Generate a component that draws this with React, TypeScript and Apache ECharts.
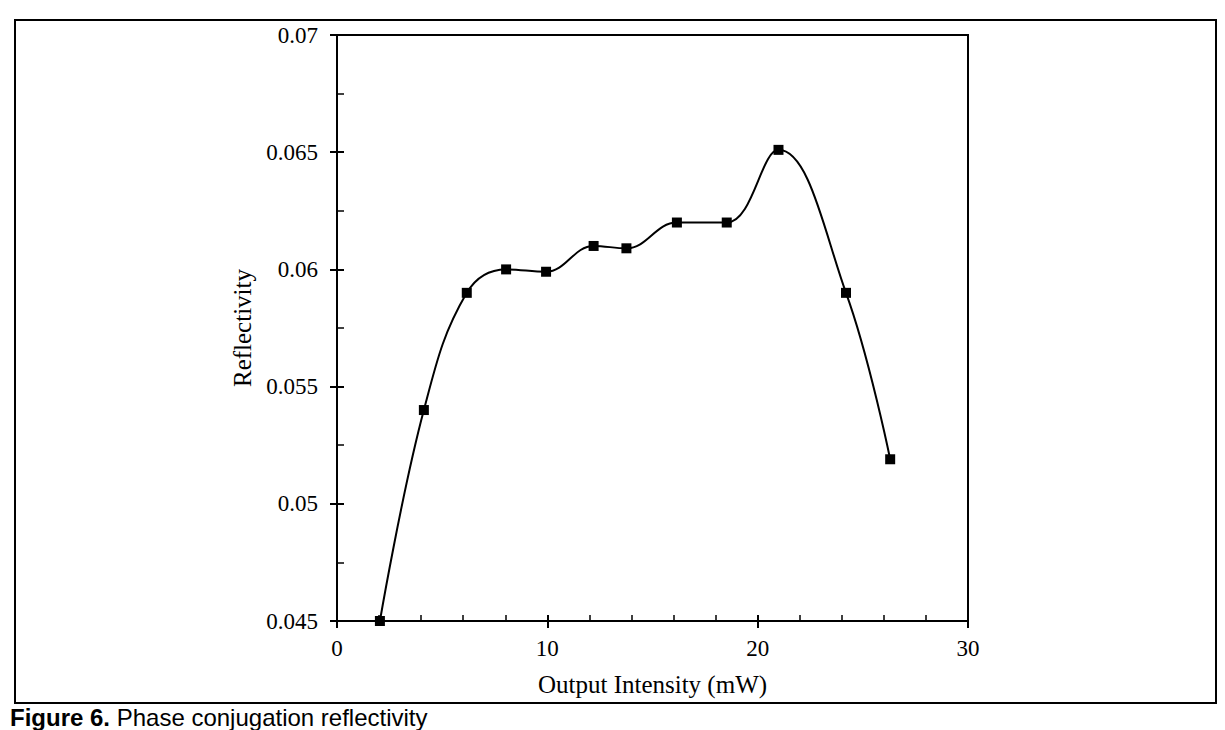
import React, { useEffect, useRef } from "react";
import * as echarts from "echarts";

const intensity = [2.04, 4.13, 6.17, 8.04, 9.94, 12.2, 13.76, 16.16, 18.53, 20.99, 24.2, 26.3];
const reflectivity = [0.045, 0.054, 0.059, 0.06, 0.0599, 0.061, 0.0609, 0.062, 0.062, 0.0651, 0.059, 0.0519];
const xTicks = { min: 0, max: 30, interval: 10 };
const yTicks = { min: 0.045, max: 0.07, interval: 0.005 };
const xTitle = "Output Intensity (mW)";
const yTitle = "Reflectivity";
const captionBold = "Figure 6.";
const captionRest = " Phase conjugation reflectivity";

const SERIF = "'Liberation Serif', 'Times New Roman', serif";
const SANS = "'Liberation Sans', Arial, Helvetica, sans-serif";

export default function App() {
  const ref = useRef<HTMLDivElement>(null);
  useEffect(() => {
    if (!ref.current) return;
    const chart = echarts.init(ref.current, undefined, { renderer: "svg" });
    const labelStyle = { color: "#000", fontFamily: SERIF, fontSize: 23 };
    const nameStyle = { color: "#000", fontFamily: SERIF, fontSize: 25 };
    const line = { show: true, onZero: false, lineStyle: { color: "#000", width: 2 } };
    const data = intensity.map((x, i) => [x, reflectivity[i]]);
    chart.setOption({
      animation: false,
      backgroundColor: "#fff",
      grid: {
        left: 337,
        right: 257,
        top: 35,
        bottom: 109,
        show: true,
        borderColor: "#000",
        borderWidth: 2,
      },
      xAxis: [
        {
          type: "value",
          position: "bottom",
          ...xTicks,
          axisLine: line,
          axisTick: { show: true, inside: true, length: 6, lineStyle: { color: "#000", width: 2 } },
          minorTick: { show: true, splitNumber: 5, length: 6, lineStyle: { color: "#000", width: 1.5 } },
          axisLabel: { ...labelStyle, margin: 16 },
          splitLine: { show: false },
          name: xTitle,
          nameLocation: "middle",
          nameGap: 51,
          nameTextStyle: nameStyle,
        },
        {
          type: "value",
          position: "bottom",
          ...xTicks,
          axisLine: { show: false, onZero: false },
          axisTick: { show: true, inside: false, length: 7, lineStyle: { color: "#000", width: 2 } },
          axisLabel: { show: false },
          splitLine: { show: false },
        },
      ],
      yAxis: [
        {
          type: "value",
          position: "left",
          ...yTicks,
          axisLine: line,
          axisTick: { show: true, inside: true, length: 7, lineStyle: { color: "#000", width: 2 } },
          minorTick: { show: true, splitNumber: 2, length: 7, lineStyle: { color: "#000", width: 1.5 } },
          axisLabel: {
            ...labelStyle,
            margin: 19,
            formatter: (v: number) => String(+v.toFixed(3)),
          },
          splitLine: { show: false },
          name: yTitle,
          nameLocation: "middle",
          nameGap: 80,
          nameTextStyle: nameStyle,
        },
        {
          type: "value",
          position: "left",
          ...yTicks,
          axisLine: { show: false, onZero: false },
          axisTick: { show: true, inside: false, length: 7, lineStyle: { color: "#000", width: 2 } },
          axisLabel: { show: false },
          splitLine: { show: false },
        },
      ],
      series: [
        {
          type: "line",
          xAxisIndex: 0,
          yAxisIndex: 0,
          data,
          smooth: 0.4,
          symbol: "rect",
          symbolSize: 10,
          lineStyle: { color: "#000", width: 2 },
          itemStyle: { color: "#000" },
        },
      ],
      graphic: [
        {
          type: "rect",
          shape: { x: 15, y: 20, width: 1201, height: 683 },
          style: { fill: "none", stroke: "#000", lineWidth: 2 },
          silent: true,
        },
        {
          type: "text",
          x: 10,
          y: 705,
          style: {
            text: "{b|" + captionBold + "}" + captionRest,
            font: "24px " + SANS,
            fill: "#000",
            verticalAlign: "top",
            rich: {
              b: { fontFamily: SANS, fontSize: 24, fontWeight: "bold", fill: "#000" },
            },
          },
        },
      ],
    });
    return () => chart.dispose();
  }, []);
  return (
    <div
      ref={ref}
      style={{ position: "absolute", left: 0, top: 0, width: 1225, height: 730 }}
    />
  );
}
